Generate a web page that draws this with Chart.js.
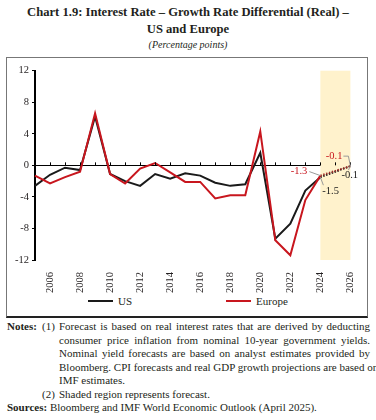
<!DOCTYPE html>
<html><head><meta charset="utf-8">
<script src="https://cdn.jsdelivr.net/npm/chart.js@4.4.1/dist/chart.umd.min.js"></script>
<style>
body{margin:0;width:376px;height:420px;background:#fff;font-family:"Liberation Serif",serif;color:#231f20;position:relative;overflow:hidden}
.t{position:absolute;left:0;width:376px;text-align:center;white-space:nowrap}
#box{position:absolute;left:6px;top:57px;width:362px;height:261px;border:1px solid #777;border-bottom:2px solid #222;box-sizing:border-box}
#cv{position:absolute;left:7px;top:58px}
.lg{position:absolute;top:294px;font-size:11px;line-height:14px;white-space:nowrap}
.lg span{display:inline-block;width:25px;height:2px;vertical-align:middle;margin-right:5px;position:relative;top:-1px}
.n{position:absolute;font-size:11px;line-height:13.5px;white-space:nowrap}
.j{text-align:justify;text-align-last:justify;width:311px;left:59px}
</style></head><body>
<div class="t" style="top:5px;font-size:12.6px;font-weight:bold">Chart 1.9: Interest Rate – Growth Rate Differential (Real) –</div>
<div class="t" style="top:22px;font-size:12.6px;font-weight:bold">US and Europe</div>
<div class="t" style="top:39px;font-size:10px;font-style:italic">(Percentage points)</div>
<div id="box"></div>
<canvas id="cv" width="360" height="236" style="width:360px;height:236px"></canvas>
<div class="lg" style="left:88px"><span style="background:#1a1a1a"></span>US</div>
<div class="lg" style="left:226px"><span style="background:#c8161e"></span>Europe</div>

<div class="n" style="left:7px;top:320px;font-weight:bold">Notes:</div>
<div class="n" style="left:42px;top:320px">(1)</div>
<div class="n j" style="top:320px">Forecast is based on real interest rates that are derived by deducting</div>
<div class="n j" style="top:333.5px">consumer price inflation from nominal 10-year government yields.</div>
<div class="n j" style="top:347px">Nominal yield forecasts are based on analyst estimates provided by</div>
<div class="n j" style="top:360.5px">Bloomberg. CPI forecasts and real GDP growth projections are based on</div>
<div class="n" style="left:59px;top:374px">IMF estimates.</div>
<div class="n" style="left:42px;top:387.5px">(2)</div>
<div class="n" style="left:59px;top:387.5px">Shaded region represents forecast.</div>
<div class="n" style="left:7px;top:401px"><b>Sources:</b> Bloomberg and IMF World Economic Outlook (April 2025).</div>

<script>
const years = ['2005','2006','2007','2008','2009','2010','2011','2012','2013','2014','2015','2016','2017','2018','2019','2020','2021','2022','2023','2024','2025','2026'];
const usActual = [-2.6,-1.2,-0.3,-0.6,6.2,-1.1,-2.0,-2.6,-1.1,-1.7,-1.0,-1.3,-2.2,-2.6,-2.4,1.6,-9.3,-7.4,-3.2,-1.5,null,null];
const euActual = [-1.3,-2.3,-1.5,-0.8,6.6,-1.1,-2.3,-0.4,0.3,-0.9,-2.1,-2.1,-4.2,-3.8,-3.8,4.3,-9.5,-11.4,-4.4,-1.3,null,null];
const usForecast = [null,null,null,null,null,null,null,null,null,null,null,null,null,null,null,null,null,null,null,-1.5,null,-0.1];
const euForecast = [null,null,null,null,null,null,null,null,null,null,null,null,null,null,null,null,null,null,null,-1.3,null,-0.1];
const yTicks = [-12,-8,-4,0,4,8,12];
const forecastStart = '2024', forecastEnd = '2026';

const FONT = '"Liberation Serif", serif';
const US_C = '#1a1a1a', EU_C = '#c8161e';

const shade = {
  id:'shade',
  beforeDatasetsDraw(c){
    const {ctx, chartArea:a, scales:{x}} = c;
    const x0 = x.getPixelForValue(years.indexOf(forecastStart));
    const x1 = x.getPixelForValue(years.indexOf(forecastEnd));
    ctx.save(); ctx.fillStyle='#fff2cc'; ctx.fillRect(x0,a.top,x1-x0,a.bottom-a.top); ctx.restore();
  },
  afterDatasetsDraw(c){
    const {ctx, scales:{x,y}} = c;
    const y0 = y.getPixelForValue(0);
    ctx.save(); ctx.strokeStyle='#000'; ctx.lineWidth=1;
    for(let i=1;i<years.length;i++){
      const px = Math.round(x.getPixelForValue(i))+0.5;
      ctx.beginPath(); ctx.moveTo(px,y0-3); ctx.lineTo(px,y0); ctx.stroke();
    }
    ctx.font = '10.5px '+FONT; ctx.textBaseline='middle';
    const i24 = years.indexOf(forecastStart), i26 = years.indexOf(forecastEnd);
    const p = (i,v)=>({x:x.getPixelForValue(i), y:y.getPixelForValue(v)});
    const a = p(i24, usForecast[i24]), b = p(i24, euForecast[i24]);
    const cU = p(i26, usForecast[i26]), cE = p(i26, euForecast[i26]);
    ctx.strokeStyle='#999'; ctx.lineWidth=1;
    ctx.beginPath(); ctx.moveTo(b.x-11,b.y-4); ctx.lineTo(b.x,b.y); ctx.stroke();
    ctx.fillStyle=EU_C; ctx.textAlign='right'; ctx.fillText(euForecast[i24].toFixed(1), b.x-13, b.y-4);
    ctx.beginPath(); ctx.moveTo(a.x,a.y); ctx.lineTo(a.x+3,a.y+8); ctx.stroke();
    ctx.fillStyle=US_C; ctx.textAlign='left'; ctx.fillText(usForecast[i24].toFixed(1), a.x+2, a.y+14);
    ctx.beginPath(); ctx.moveTo(cE.x-7,cE.y-10); ctx.lineTo(cE.x-2,cE.y-10); ctx.lineTo(cE.x,cE.y); ctx.stroke();
    ctx.fillStyle=EU_C; ctx.textAlign='right'; ctx.fillText(euForecast[i26].toFixed(1), cE.x-8, cE.y-10);
    ctx.beginPath(); ctx.moveTo(cU.x,cU.y); ctx.lineTo(cU.x-2,cU.y+4); ctx.stroke();
    ctx.fillStyle=US_C; ctx.textAlign='left'; ctx.fillText(usForecast[i26].toFixed(1), cU.x-9, cU.y+9);
    ctx.restore();
  }
};

new Chart(document.getElementById('cv'), {
  type:'line',
  data:{labels:years, datasets:[
    {label:'US', data:usActual, borderColor:US_C, borderWidth:2, pointRadius:0, tension:0, order:2},
    {label:'Europe', data:euActual, borderColor:EU_C, borderWidth:2, pointRadius:0, tension:0, order:1},
    {label:'US forecast', data:usForecast, borderColor:US_C, borderWidth:2, borderDash:[1.5,1.5], pointRadius:0, spanGaps:true, order:4},
    {label:'Europe forecast', data:euForecast, borderColor:'#a0302a', borderWidth:2, borderDash:[1.5,1.5], pointRadius:0, spanGaps:true, order:3}
  ]},
  options:{
    responsive:false, animation:false, devicePixelRatio:1,
    layout:{padding:{left:0,right:15,top:12.7,bottom:0}},
    plugins:{legend:{display:false}, tooltip:{enabled:false}},
    scales:{
      x:{
        offset:false,
        grid:{display:false}, border:{display:false},
        afterFit(s){ s.height = 34; },
        ticks:{autoSkip:false, maxRotation:90, minRotation:90, padding:4, color:'#231f20',
          font:{family:FONT, size:10.5},
          callback(v,i){ return (+years[i])%2===0 ? years[i] : ''; }}
      },
      y:{
        min:-12, max:12,
        afterFit(s){ s.width = 28; },
        afterBuildTicks(s){ s.ticks = yTicks.map(v=>({value:v})); },
        border:{display:true, color:'#000', width:2},
        grid:{drawOnChartArea:true, drawTicks:true, tickLength:3, tickColor:'#000', lineWidth:1,
          color:(c)=> (c.tick && c.tick.value===0) ? '#000' : 'rgba(0,0,0,0)'},
        ticks:{padding:3, color:'#231f20', font:{family:FONT, size:10.5}}
      }
    }
  },
  plugins:[shade]
});
</script>
</body></html>
